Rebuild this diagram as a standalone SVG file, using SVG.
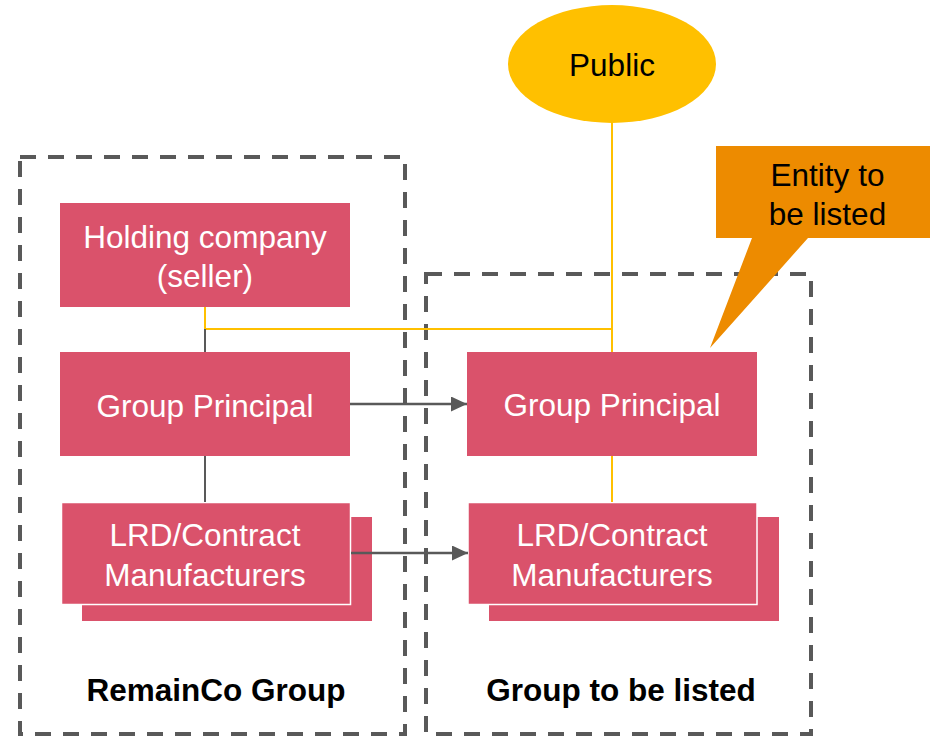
<svg xmlns="http://www.w3.org/2000/svg" width="930" height="736" viewBox="0 0 930 736">
  <defs>
    <marker id="arrow" markerWidth="16" markerHeight="15" refX="16" refY="7.5" orient="auto" markerUnits="userSpaceOnUse">
      <path d="M0,0 L16,7.5 L0,15 Z" fill="#595959"/>
    </marker>
  </defs>
  <style>
    .frame { fill: none; stroke: #595959; stroke-width: 4; stroke-dasharray: 16 12; }
    .box { fill: #DA526B; }
    .box-front { fill: #DA526B; stroke: #FFFFFF; stroke-width: 1.5; }
    .t { font-family: "Liberation Sans", Arial, sans-serif; font-size: 31.5px; text-anchor: middle; }
    .tw { fill: #FFFFFF; }
    .tb { fill: #000000; }
    .bold { font-weight: bold; }
    .gray { fill: none; stroke: #595959; stroke-width: 2; }
    .arrowline { fill: none; stroke: #595959; stroke-width: 2.5; }
    .yellow { fill: none; stroke: #FFC000; stroke-width: 2; }
  </style>

  <!-- group frames -->
  <g id="remainco-group">
    <rect class="frame" x="20" y="157" width="385" height="577"/>
    <text class="t tb bold" x="216" y="701">RemainCo Group</text>
  </g>
  <g id="listed-group">
    <rect class="frame" x="426" y="274" width="385" height="460"/>
    <text class="t tb bold" x="621" y="701">Group to be listed</text>
  </g>

  <!-- nodes -->
  <g id="public">
    <ellipse cx="612" cy="64" rx="104" ry="59" fill="#FFC000"/>
    <text class="t tb" x="612" y="76">Public</text>
  </g>

  <g id="holding-company">
    <rect class="box" x="60" y="203" width="290" height="104"/>
    <text class="t tw" x="205" y="248">Holding company</text>
    <text class="t tw" x="205" y="286.5">(seller)</text>
  </g>

  <g id="group-principal-left">
    <rect class="box" x="60" y="352" width="290" height="104"/>
    <text class="t tw" x="205" y="416.5">Group Principal</text>
  </g>

  <g id="lrd-left">
    <rect class="box" x="82" y="517" width="290" height="104"/>
    <rect class="box-front" x="61.5" y="502.5" width="289" height="102"/>
    <text class="t tw" x="205" y="546">LRD/Contract</text>
    <text class="t tw" x="205" y="586">Manufacturers</text>
  </g>

  <g id="group-principal-right">
    <rect class="box" x="467" y="352" width="290" height="104"/>
    <text class="t tw" x="612" y="416">Group Principal</text>
  </g>

  <g id="lrd-right">
    <rect class="box" x="489" y="517" width="290" height="104"/>
    <rect class="box-front" x="468" y="502.5" width="289" height="102"/>
    <text class="t tw" x="612" y="546">LRD/Contract</text>
    <text class="t tw" x="612" y="586">Manufacturers</text>
  </g>

  <!-- connectors -->
  <g id="connectors">
    <polyline class="yellow" points="205,307 205,329 612,329"/>
    <line class="yellow" x1="612" y1="122" x2="612" y2="352"/>
    <line class="yellow" x1="612" y1="456" x2="612" y2="502"/>
    <line class="gray" x1="205" y1="329" x2="205" y2="352"/>
    <line class="gray" x1="205" y1="456" x2="205" y2="502"/>
    <line class="arrowline" x1="350" y1="404" x2="467" y2="404" marker-end="url(#arrow)"/>
    <line class="arrowline" x1="351" y1="553" x2="468" y2="553" marker-end="url(#arrow)"/>
  </g>

  <g id="entity-callout">
    <path d="M716,146 H930 V238 H808 L710,348 L752,238 H716 Z" fill="#ED8B00"/>
    <text class="t tb" x="827.5" y="185.5">Entity to</text>
    <text class="t tb" x="827.5" y="224.5">be listed</text>
  </g>
</svg>
